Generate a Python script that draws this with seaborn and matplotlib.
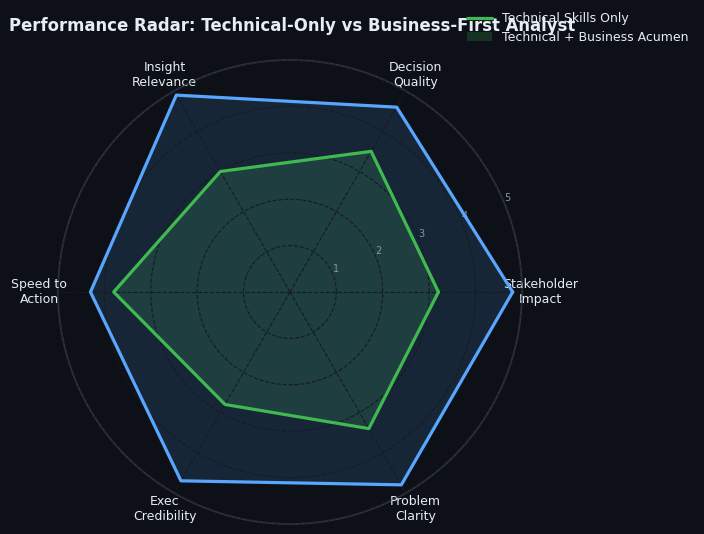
import numpy as np
import pandas as pd
import seaborn as sns
import matplotlib.pyplot as plt
from matplotlib.lines import Line2D
from matplotlib.patches import Patch

# Data
categories = ["Stakeholder\nImpact", "Decision\nQuality", "Insight\nRelevance",
              "Speed to\nAction", "Exec\nCredibility", "Problem\nClarity"]
technical_only = [3.2, 3.5, 3.0, 3.8, 2.8, 3.4]
business_first = [4.8, 4.6, 4.9, 4.3, 4.7, 4.8]

BG = "#0d1117"
GRID = "#161b22"
TEXT = "#e6edf3"
GREEN = "#3fb950"
BLUE = "#58a6ff"

sns.set_theme(style="dark", rc={
    "figure.facecolor": BG, "axes.facecolor": BG,
    "text.color": TEXT, "xtick.color": TEXT, "ytick.color": "#8b949e",
})
plt.rcParams['font.family'] = ['DejaVu Sans']

angles = np.linspace(0, 2 * np.pi, len(categories), endpoint=False)
closed = np.append(angles, angles[0])

fig = plt.figure(figsize=(7.04, 5.34), dpi=100)
ax = fig.add_axes([0.0824, 0.0187, 0.659, 0.869], projection="polar")
ax.set_facecolor(BG)
ax.set_axisbelow(False)

df_t = pd.DataFrame({"angle": closed, "score": technical_only + technical_only[:1]})
df_b = pd.DataFrame({"angle": closed, "score": business_first + business_first[:1]})

# fills: green first, blue over it
ax.fill(df_t["angle"], df_t["score"], color=GREEN, alpha=0.17, zorder=1)
ax.fill(df_b["angle"], df_b["score"], color=BLUE, alpha=0.14, zorder=2)

sns.lineplot(data=df_b, x="angle", y="score", sort=False, estimator=None,
             color=BLUE, linewidth=2.3, ax=ax, zorder=4)
sns.lineplot(data=df_t, x="angle", y="score", sort=False, estimator=None,
             color=GREEN, linewidth=2.3, ax=ax, zorder=5)

ax.set_ylim(0, 5)
ax.set_xticks(angles)
ax.set_xticklabels(categories, fontsize=9, color=TEXT)
ax.tick_params(axis="x", pad=0.5)
ax.set_yticks([1, 2, 3, 4, 5])
ax.set_yticklabels(["1", "2", "3", "4", "5"], fontsize=7, color="#8b949e")
ax.set_rlabel_position(22.5)
ax.set_xlabel("")
ax.set_ylabel("")
ax.grid(True, color=GRID, linestyle="--", linewidth=0.8)
ax.spines["polar"].set_color("#30363d")

fig.suptitle("Performance Radar: Technical-Only vs Business-First Analyst",
             x=0.013, y=0.951, ha="left", va="center", fontsize=11.9,
             fontweight="bold", color=TEXT)

handles = [Line2D([0], [0], color=GREEN, linewidth=2.3),
           Patch(facecolor=GREEN, alpha=0.2, edgecolor="none")]
fig.legend(handles, ["Technical Skills Only", "Technical + Business Acumen"],
           loc="upper left", bbox_to_anchor=(0.656, 0.987), frameon=False,
           fontsize=9, labelcolor=TEXT, borderaxespad=0.0)

plt.savefig("out.png", dpi=100, facecolor=BG)
